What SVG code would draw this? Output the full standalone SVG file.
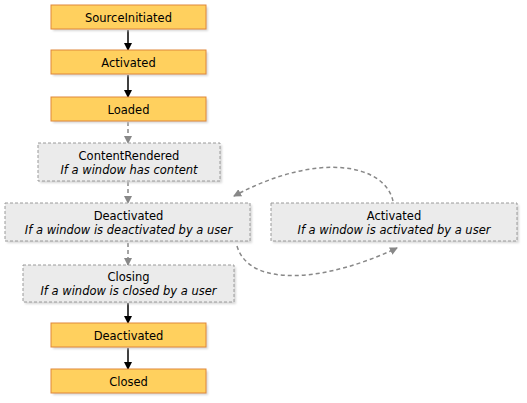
<svg xmlns="http://www.w3.org/2000/svg" width="527" height="403" viewBox="0 0 527 403">
<style>
.o{fill:#FFD05E;stroke:#E0873A;stroke-width:1}
.g{fill:#EBEBEB;stroke:#9A9A9A;stroke-width:1;stroke-dasharray:3,2}
.sh{fill:#C8C8C8;opacity:0.7}
text{font-family:"DejaVu Sans",Verdana,sans-serif;font-size:11.5px;fill:#000;text-anchor:middle}
.i{font-style:italic}
.s{stroke:#000;stroke-width:1.5;fill:none}
.d{stroke:#888;stroke-width:1.5;fill:none;stroke-dasharray:4,3}
</style>
<defs>
<filter id="blur" x="-5%" y="-20%" width="110%" height="140%"><feGaussianBlur stdDeviation="1"/></filter>
<marker id="ab" markerWidth="8" markerHeight="8" refX="7" refY="4" orient="auto" markerUnits="userSpaceOnUse"><path d="M0,0 L8,4 L0,8 z" fill="#000"/></marker>
<marker id="ag" markerWidth="8" markerHeight="8" refX="7" refY="4" orient="auto" markerUnits="userSpaceOnUse"><path d="M0,0 L8,4 L0,8 z" fill="#888"/></marker>
</defs>
<rect width="527" height="403" fill="#fff"/>
<g id="connectors">
<line class="s" x1="128" y1="30" x2="128" y2="50" marker-end="url(#ab)"/>
<line class="s" x1="128" y1="75" x2="128" y2="97" marker-end="url(#ab)"/>
<line class="d" x1="128" y1="122" x2="128" y2="143" marker-end="url(#ag)"/>
<line class="d" x1="128" y1="182" x2="128" y2="203" marker-end="url(#ag)"/>
<line class="d" x1="128" y1="243" x2="128" y2="265" marker-end="url(#ag)"/>
<line class="s" x1="128" y1="303" x2="128" y2="323" marker-end="url(#ab)"/>
<line class="s" x1="128" y1="348" x2="128" y2="369" marker-end="url(#ab)"/>
<path class="d" d="M393,201 C385,165 320,150 234,196" marker-end="url(#ag)"/>
<path class="d" d="M237,246 C250,290 330,280 397,248" marker-end="url(#ag)"/>
</g>
<g id="n1"><rect class="sh" x="53" y="7" width="155" height="24" filter="url(#blur)"/><rect class="o" x="51" y="5" width="155" height="24"/><text x="128.5" y="21.5">SourceInitiated</text></g>
<g id="n2"><rect class="sh" x="53" y="52" width="155" height="24" filter="url(#blur)"/><rect class="o" x="51" y="50" width="155" height="24"/><text x="128.5" y="66.5">Activated</text></g>
<g id="n3"><rect class="sh" x="53" y="99" width="155" height="24" filter="url(#blur)"/><rect class="o" x="51" y="97" width="155" height="24"/><text x="128.5" y="113.5">Loaded</text></g>
<g id="n4"><rect class="sh" x="40" y="145" width="182" height="38" filter="url(#blur)"/><rect class="g" x="38" y="143" width="182" height="38"/><text x="129" y="160">ContentRendered</text><text class="i" x="129" y="174">If a window has content</text></g>
<g id="n5"><rect class="sh" x="7" y="205" width="245" height="38" filter="url(#blur)"/><rect class="g" x="5" y="203" width="245" height="38"/><text x="128.5" y="220">Deactivated</text><text class="i" x="128.5" y="234">If a window is deactivated by a user</text></g>
<g id="n6"><rect class="sh" x="273" y="205" width="246" height="38" filter="url(#blur)"/><rect class="g" x="271" y="203" width="246" height="38"/><text x="394" y="220">Activated</text><text class="i" x="394" y="234">If a window is activated by a user</text></g>
<g id="n7"><rect class="sh" x="25" y="267" width="211" height="37" filter="url(#blur)"/><rect class="g" x="23" y="265" width="211" height="37"/><text x="128.5" y="281">Closing</text><text class="i" x="128.5" y="295">If a window is closed by a user</text></g>
<g id="n8"><rect class="sh" x="53" y="325" width="155" height="24" filter="url(#blur)"/><rect class="o" x="51" y="323" width="155" height="24"/><text x="128.5" y="339.5">Deactivated</text></g>
<g id="n9"><rect class="sh" x="53" y="371" width="155" height="24" filter="url(#blur)"/><rect class="o" x="51" y="369" width="155" height="24"/><text x="128.5" y="385.5">Closed</text></g>
</svg>
